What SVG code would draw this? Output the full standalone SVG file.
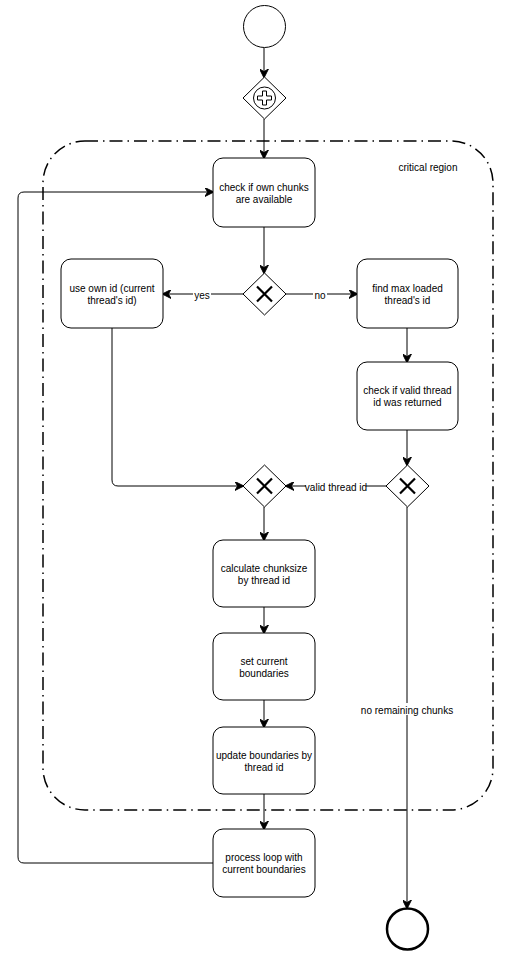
<svg xmlns="http://www.w3.org/2000/svg" width="509" height="961" viewBox="0 0 509 961">
<style>
.box{fill:#fff;stroke:#000;stroke-width:1}
.gw{fill:#fff;stroke:#000;stroke-width:1}
.x{stroke:#000;stroke-width:2.2;fill:none}
.edge{fill:none;stroke:#000;stroke-width:1}
.t{font-family:"Liberation Sans",Arial,sans-serif;font-size:10px;fill:#000;text-anchor:middle}
.lbl{font-family:"Liberation Sans",Arial,sans-serif;font-size:10px;fill:#000;text-anchor:middle;dominant-baseline:central}
.lblbg{fill:#fff}
</style>
<defs>
<marker id="arr" viewBox="0 0 10 10" refX="9" refY="5" markerWidth="9" markerHeight="9" markerUnits="userSpaceOnUse" orient="auto">
<path d="M0,0 L10,5 L0,10 L3,5 Z" fill="#000" stroke="#000" stroke-width="1"/>
</marker>
</defs>
<rect width="509" height="961" fill="#fff"/>
<g id="critical-region">
<rect x="43" y="141" width="450" height="669" rx="42" ry="42" fill="none" stroke="#000" stroke-width="1.5" stroke-dasharray="13 5 1.5 5"/>
<text class="t" x="428" y="171">critical region</text>
</g>
<g id="connectors">
<path class="edge" d="M264,48 L264,77" marker-end="url(#arr)"/>
<path class="edge" d="M264,119 L264,158" marker-end="url(#arr)"/>
<path class="edge" d="M264,227 L264,273" marker-end="url(#arr)"/>
<path class="edge" d="M243,294 L163,294" marker-end="url(#arr)"/>
<path class="edge" d="M286,294 L357,294" marker-end="url(#arr)"/>
<path class="edge" d="M407,328 L407,362" marker-end="url(#arr)"/>
<path class="edge" d="M407,430 L407,465" marker-end="url(#arr)"/>
<path class="edge" d="M386,486 L286,486" marker-end="url(#arr)"/>
<path class="edge" d="M112,328 L112,480 Q112,486 118,486 L243,486" marker-end="url(#arr)"/>
<path class="edge" d="M264,507 L264,540" marker-end="url(#arr)"/>
<path class="edge" d="M264,607 L264,633" marker-end="url(#arr)"/>
<path class="edge" d="M264,700 L264,727" marker-end="url(#arr)"/>
<path class="edge" d="M264,794 L264,829" marker-end="url(#arr)"/>
<path class="edge" d="M213,863 L24,863 Q18,863 18,857 L18,198 Q18,192 24,192 L213,192" marker-end="url(#arr)"/>
<path class="edge" d="M407,507 L407,908" marker-end="url(#arr)"/>
<rect class="lblbg" x="193" y="288" width="18" height="12"/>
<text class="lbl" x="202" y="295">yes</text>
<rect class="lblbg" x="313" y="288" width="14" height="12"/>
<text class="lbl" x="320" y="295">no</text>
<rect class="lblbg" x="306" y="480" width="60" height="12"/>
<text class="lbl" x="336" y="487">valid thread id</text>
<rect class="lblbg" x="362" y="703" width="90" height="12"/>
<text class="lbl" x="407" y="710">no remaining chunks</text>
</g>
<g id="start">
<circle cx="264.5" cy="26.5" r="21" fill="#fff" stroke="#000" stroke-width="1"/>
</g>
<g id="parallel-gateway">
<path class="gw" d="M264.5,77 L286,98 L264.5,119 L243,98 Z"/>
<circle cx="264.5" cy="98" r="11" fill="none" stroke="#000" stroke-width="1"/>
<path d="M262.5,91 L266.5,91 L266.5,96 L271.5,96 L271.5,100 L266.5,100 L266.5,105 L262.5,105 L262.5,100 L257.5,100 L257.5,96 L262.5,96 Z" fill="#fff" stroke="#000" stroke-width="1"/>
</g>
<g id="check-own">
<rect class="box" x="213" y="158" width="102" height="69" rx="10"/>
<text class="t" x="264" y="191">check if own chunks</text>
<text class="t" x="264" y="203">are available</text>
</g>
<g id="xor1">
<path class="gw" d="M264.5,273 L286,294 L264.5,315 L243,294 Z"/>
<path class="x" d="M257,286.5 L272,301.5 M272,286.5 L257,301.5"/>
</g>
<g id="use-own">
<rect class="box" x="61" y="259" width="102" height="69" rx="10"/>
<text class="t" x="112" y="292">use own id (current</text>
<text class="t" x="112" y="304">thread's id)</text>
</g>
<g id="find-max">
<rect class="box" x="357" y="259" width="101" height="69" rx="10"/>
<text class="t" x="407.5" y="292">find max loaded</text>
<text class="t" x="407.5" y="304">thread's id</text>
</g>
<g id="check-valid">
<rect class="box" x="357" y="362" width="101" height="68" rx="10"/>
<text class="t" x="407.5" y="394">check if valid thread</text>
<text class="t" x="407.5" y="406">id was returned</text>
</g>
<g id="xor3">
<path class="gw" d="M407.5,465 L429,486 L407.5,507 L386,486 Z"/>
<path class="x" d="M400,478.5 L415,493.5 M415,478.5 L400,493.5"/>
</g>
<g id="xor2">
<path class="gw" d="M264.5,465 L286,486 L264.5,507 L243,486 Z"/>
<path class="x" d="M257,478.5 L272,493.5 M272,478.5 L257,493.5"/>
</g>
<g id="calc">
<rect class="box" x="213" y="540" width="102" height="67" rx="10"/>
<text class="t" x="264" y="572">calculate chunksize</text>
<text class="t" x="264" y="584">by thread id</text>
</g>
<g id="set">
<rect class="box" x="213" y="633" width="102" height="67" rx="10"/>
<text class="t" x="264" y="665">set current</text>
<text class="t" x="264" y="677">boundaries</text>
</g>
<g id="update">
<rect class="box" x="213" y="727" width="102" height="67" rx="10"/>
<text class="t" x="264" y="759">update boundaries by</text>
<text class="t" x="264" y="771">thread id</text>
</g>
<g id="process">
<rect class="box" x="213" y="829" width="102" height="68" rx="10"/>
<text class="t" x="264" y="861">process loop with</text>
<text class="t" x="264" y="873">current boundaries</text>
</g>
<g id="end">
<circle cx="407.5" cy="929" r="20.5" fill="#fff" stroke="#000" stroke-width="2.5"/>
</g>
</svg>
